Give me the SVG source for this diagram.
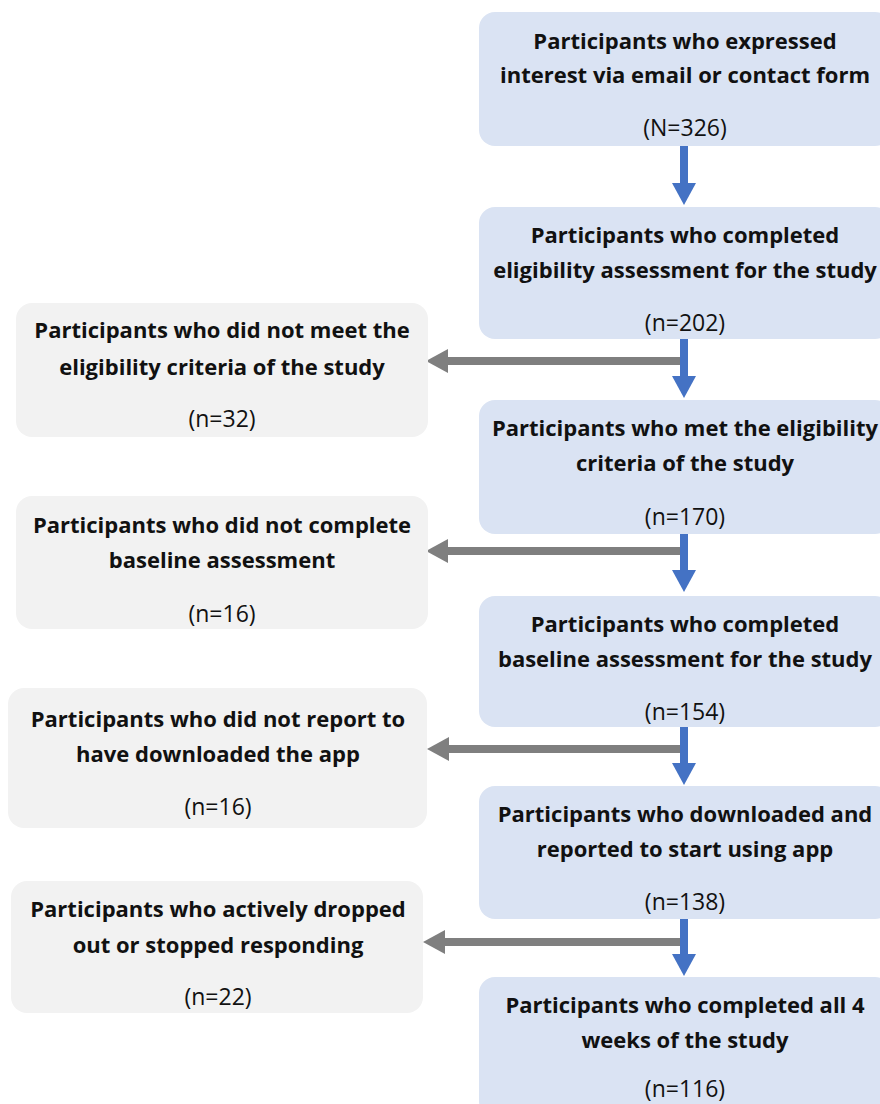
<svg xmlns="http://www.w3.org/2000/svg" width="880" height="1104" viewBox="0 0 880 1104">
<defs>
<style>
.rb{fill:#dae3f3}
.lb{fill:#f2f2f2}
text{font-family:"Open Sans","Noto Sans","Liberation Sans",sans-serif;font-size:22px;fill:#111;text-anchor:middle}
.t{font-weight:700}
.n{font-weight:400;font-size:23px}
.blue{stroke:#4472c4;stroke-width:8;fill:none}
.gray{stroke:#7f7f7f;stroke-width:8;fill:none}
</style>
<marker id="hb" markerUnits="userSpaceOnUse" markerWidth="23" markerHeight="24" refX="0" refY="12" orient="auto" viewBox="0 0 23 24">
<path d="M0,0 L22,12 L0,24 Z" fill="#4472c4"/>
</marker>
<marker id="hg" markerUnits="userSpaceOnUse" markerWidth="23" markerHeight="24" refX="0" refY="12" orient="auto" viewBox="0 0 23 24">
<path d="M0,0 L22,12 L0,24 Z" fill="#7f7f7f"/>
</marker>
</defs>
<rect width="880" height="1104" fill="#ffffff"/>

<g id="connectors">
<line class="gray" x1="683" y1="361" x2="448" y2="361" marker-end="url(#hg)"/>
<line class="gray" x1="683" y1="551" x2="448" y2="551" marker-end="url(#hg)"/>
<line class="gray" x1="683" y1="749" x2="449" y2="749" marker-end="url(#hg)"/>
<line class="gray" x1="683" y1="942" x2="445" y2="942" marker-end="url(#hg)"/>
<line class="blue" x1="684" y1="146" x2="684" y2="183" marker-end="url(#hb)"/>
<line class="blue" x1="684" y1="339" x2="684" y2="376" marker-end="url(#hb)"/>
<line class="blue" x1="684" y1="534" x2="684" y2="570" marker-end="url(#hb)"/>
<line class="blue" x1="684" y1="727" x2="684" y2="763" marker-end="url(#hb)"/>
<line class="blue" x1="684" y1="919" x2="684" y2="954" marker-end="url(#hb)"/>
</g>

<g id="n1">
<rect class="rb" x="479" y="12" width="412" height="134" rx="16"/>
<text class="t" x="685" y="49">Participants who expressed</text>
<text class="t" x="685" y="83">interest via email or contact form</text>
<text class="n" x="685" y="136">(N=326)</text>
</g>
<g id="n2">
<rect class="rb" x="479" y="207" width="412" height="132" rx="16"/>
<text class="t" x="685" y="243">Participants who completed</text>
<text class="t" x="685" y="278">eligibility assessment for the study</text>
<text class="n" x="685" y="331">(n=202)</text>
</g>
<g id="n3">
<rect class="rb" x="479" y="400" width="412" height="134" rx="16"/>
<text class="t" x="685" y="436">Participants who met the eligibility</text>
<text class="t" x="685" y="471">criteria of the study</text>
<text class="n" x="685" y="525">(n=170)</text>
</g>
<g id="n4">
<rect class="rb" x="479" y="596" width="412" height="131" rx="16"/>
<text class="t" x="685" y="632">Participants who completed</text>
<text class="t" x="685" y="667">baseline assessment for the study</text>
<text class="n" x="685" y="720">(n=154)</text>
</g>
<g id="n5">
<rect class="rb" x="479" y="786" width="412" height="133" rx="16"/>
<text class="t" x="685" y="822">Participants who downloaded and</text>
<text class="t" x="685" y="857">reported to start using app</text>
<text class="n" x="685" y="910">(n=138)</text>
</g>
<g id="n6">
<rect class="rb" x="479" y="977" width="412" height="140" rx="16"/>
<text class="t" x="685" y="1013">Participants who completed all 4</text>
<text class="t" x="685" y="1048">weeks of the study</text>
<text class="n" x="685" y="1097">(n=116)</text>
</g>

<g id="x1">
<rect class="lb" x="16" y="303" width="412" height="134" rx="16"/>
<text class="t" x="222" y="338">Participants who did not meet the</text>
<text class="t" x="222" y="375">eligibility criteria of the study</text>
<text class="n" x="222" y="427">(n=32)</text>
</g>
<g id="x2">
<rect class="lb" x="16" y="496" width="412" height="133" rx="16"/>
<text class="t" x="222" y="533">Participants who did not complete</text>
<text class="t" x="222" y="568">baseline assessment</text>
<text class="n" x="222" y="622">(n=16)</text>
</g>
<g id="x3">
<rect class="lb" x="8" y="688" width="419" height="140" rx="16"/>
<text class="t" x="218" y="727">Participants who did not report to</text>
<text class="t" x="218" y="762">have downloaded the app</text>
<text class="n" x="218" y="815">(n=16)</text>
</g>
<g id="x4">
<rect class="lb" x="11" y="881" width="412" height="132" rx="16"/>
<text class="t" x="218" y="917">Participants who actively dropped</text>
<text class="t" x="218" y="953">out or stopped responding</text>
<text class="n" x="218" y="1005">(n=22)</text>
</g>
</svg>
